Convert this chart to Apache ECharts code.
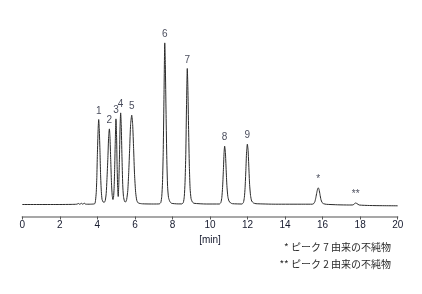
<!DOCTYPE html>
<html>
<head>
<meta charset="utf-8">
<script src="https://cdn.jsdelivr.net/npm/echarts@6/dist/echarts.min.js"></script>
<style>html,body{margin:0;padding:0;background:#fff;}#c{width:422px;height:294px;}</style>
</head>
<body>
<div id="c"></div>
<script>
// Chromatogram trace: [time (min), signal (arbitrary units)]
var trace = [
  [0,0],[1,0],[2,0],[2.6,0.1],[2.9,0.3],[3.0,1.0],[3.06,0.2],[3.15,1.2],[3.22,0.3],[3.3,1.3],[3.38,0.3],[3.6,0.3],[3.8,0.5],
  [3.87,1],[3.90,4],[3.94,12],[3.97,27],[4.00,50],[4.04,75],[4.07,85],[4.10,76],[4.14,52],[4.17,30],[4.21,13],[4.25,5],[4.31,2.5],
  [4.36,2],[4.42,4],[4.47,11],[4.51,25],[4.56,47],[4.60,68],[4.64,75.6],[4.67,68],[4.71,45],[4.75,22],[4.79,9],[4.83,5],
  [4.86,7],[4.89,16],[4.92,35],[4.95,60],[4.99,85.6],[5.02,70],[5.05,40],[5.08,17],[5.11,8],
  [5.14,20],[5.17,42],[5.21,78],[5.24,91.6],[5.27,80],[5.31,48],[5.35,20],[5.39,8],[5.45,3],[5.50,2.5],
  [5.56,5],[5.62,14],[5.67,32],[5.72,56],[5.77,80],[5.83,89.3],[5.88,80],[5.93,56],[5.98,30],[6.04,12],[6.10,4],[6.18,1.5],[6.4,0.7],
  [7.0,0.5],[7.30,0.6],[7.38,2],[7.43,8],[7.47,22],[7.51,55],[7.55,110],[7.59,161.6],[7.62,140],[7.66,90],[7.70,45],[7.74,18],[7.79,7],[7.86,3],[7.95,1.2],
  [8.3,0.6],[8.50,0.6],[8.58,2],[8.63,8],[8.67,22],[8.71,50],[8.75,100],[8.79,136],[8.82,118],[8.86,75],[8.90,38],[8.94,16],[8.99,6],[9.06,2.5],[9.15,1.2],
  [9.8,0.5],[10.50,0.5],[10.58,2],[10.63,7],[10.67,17],[10.71,33],[10.75,52],[10.78,58.3],[10.82,52],[10.86,35],[10.90,19],[10.95,8],[11.01,3.5],[11.10,1.5],[11.20,0.8],
  [11.70,0.5],[11.78,2],[11.83,7],[11.87,17],[11.91,34],[11.95,53],[11.99,60.3],[12.03,54],[12.07,37],[12.11,20],[12.16,9],[12.22,3.5],[12.32,1.5],[12.45,0.8],
  [13.5,0.3],[15.0,0.3],[15.45,0.3],[15.53,1],[15.59,3],[15.64,7],[15.69,12],[15.74,16],[15.77,16.6],[15.81,15],[15.86,10],[15.91,5],[15.97,2],[16.05,0.8],[16.20,0.2],
  [16.8,-0.3],[17.4,-0.5],[17.62,-0.4],[17.70,0.8],[17.76,1.5],[17.83,0.9],[17.95,-0.5],[18.5,-1.0],[19.2,-1.2],[20,-1.3]
];
var peakNames = ['1','2','3','4','5','6','7','8','9','*','**'];
var peakTimes = [4.07,4.64,4.99,5.24,5.83,7.59,8.79,10.78,11.99,15.77,17.76];
var peakHeights = [85,75.6,85.6,91.6,89.3,161.6,136,58.3,60.3,16.6,1.5];
var footnotes = ['* ピーク 7 由来の不純物','** ピーク 2 由来の不純物'];
var xLabelName = '[min]';

var labelPts = peakTimes.map(function(t,i){ return {value:[t,peakHeights[i]], name:peakNames[i]}; });
var fontLatin = '"Liberation Sans", Arial, sans-serif';

var chart = echarts.init(document.getElementById('c'), null, {renderer:'canvas'});
chart.setOption({
  animation:false,
  backgroundColor:'#ffffff',
  grid:{left:22.3,right:24.3,top:30.5,bottom:77.5},
  xAxis:{
    type:'value',min:0,max:20,interval:2,
    name:xLabelName,nameLocation:'middle',nameGap:18,
    nameTextStyle:{color:'#161a2e',fontSize:10,fontFamily:fontLatin},
    axisLine:{onZero:false,lineStyle:{color:'#8a8a8a',width:1.5}},
    axisTick:{show:true,length:3,lineStyle:{color:'#555',width:1}},
    axisLabel:{color:'#161a2e',fontSize:10,margin:4,fontFamily:fontLatin},
    splitLine:{show:false}
  },
  yAxis:{type:'value',min:-12,max:174,show:false,splitLine:{show:false}},
  series:[
    {type:'line',data:trace,showSymbol:false,symbol:'none',smooth:0.2,
     lineStyle:{color:'#2a2a2a',width:1},z:2},
    {type:'scatter',data:labelPts,symbolSize:1,itemStyle:{color:'rgba(0,0,0,0)'},
     label:{show:true,position:'top',distance:3,formatter:'{b}',color:'#161a2e',fontSize:10,
            fontFamily:fontLatin},z:3}
  ],
  graphic:[
    {type:'text',right:31,top:242,style:{text:footnotes[0],fill:'#2a2a2a',fontSize:10,
      fontFamily:'"Noto Sans CJK JP", sans-serif',textAlign:'right'}},
    {type:'text',right:31,top:259,style:{text:footnotes[1],fill:'#2a2a2a',fontSize:10,
      fontFamily:'"Noto Sans CJK JP", sans-serif',textAlign:'right'}}
  ]
});
</script>
</body>
</html>
